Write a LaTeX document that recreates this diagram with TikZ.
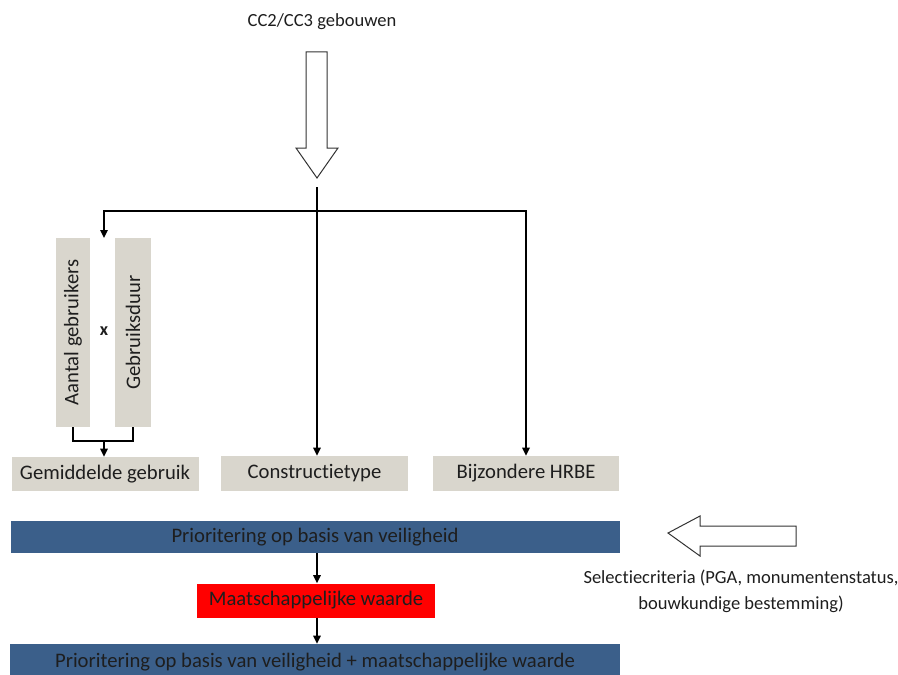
\documentclass[tikz,border=0pt]{standalone}
\usepackage{fontspec}
\setmainfont[Ligatures={NoCommon}]{Carlito}
\usetikzlibrary{arrows.meta}
\definecolor{boxgray}{RGB}{217,214,205}
\definecolor{barblue}{RGB}{59,95,138}
\definecolor{txtdark}{RGB}{30,30,30}
\tikzset{
  graybox/.style={fill=boxgray, draw=none, inner sep=0pt, text=txtdark,
    font=\fontsize{15.5pt}{18pt}\selectfont},
  bluebar/.style={fill=barblue, draw=none, inner sep=0pt, text=txtdark,
    font=\fontsize{15.5pt}{18pt}\selectfont},
  redbox/.style={fill=red, draw=none, inner sep=0pt, text=txtdark,
    font=\fontsize{15.5pt}{18pt}\selectfont},
  link/.style={line width=1.5pt, -{Triangle[length=6pt,width=5.5pt]}},
  plainlink/.style={line width=1.5pt},
  bigarrow/.style={draw=black!80, line width=0.75pt, fill=white},
  caption/.style={text=txtdark, font=\fontsize{13.9pt}{19.5pt}\selectfont, align=center}
}
\begin{document}
\begin{tikzpicture}[x=0.75pt,y=-0.75pt]
\useasboundingbox (0,0) rectangle (898,674);

% input label and hollow arrow
\node[caption] (src) at (322,22) {CC2/CC3 gebouwen};
\draw[bigarrow] (306,52) -- (327,52) -- (327,148) -- (338,148) -- (317,178)
  -- (296,148) -- (306,148) -- cycle;

% usage factors
\node[graybox, rotate=90, minimum width=141.75pt, minimum height=25.5pt] (aant) at (73,332.5) {Aantal gebruikers};
\node[graybox, rotate=90, minimum width=141.75pt, minimum height=27pt] (duur) at (133,332.5) {Gebruiksduur};
\node[font=\fontsize{13.5pt}{15pt}\selectfont\bfseries, text=txtdark] (times) at (104,331) {x};

% the three criteria
\node[graybox, minimum width=140.25pt, minimum height=25.5pt] (gem) at (105,474) {Gemiddelde gebruik};
\node[graybox, minimum width=140.25pt, minimum height=26.25pt] (con) at (314.5,473.5) {Constructietype};
\node[graybox, minimum width=139.5pt, minimum height=26.25pt] (hrbe) at (526,473.5) {Bijzondere HRBE};

% prioritisation
\node[bluebar, minimum width=456.75pt, minimum height=24pt] (prio1) at (315,537) {Prioritering op basis van veiligheid};
\node[redbox, minimum width=178.5pt, minimum height=25.5pt] (maat) at (316,600.5) {Maatschappelijke waarde};
\node[bluebar, minimum width=457.5pt, minimum height=27pt] (prio2) at (315,662) {Prioritering op basis van veiligheid + maatschappelijke waarde};

% selection criteria input
\draw[bigarrow] (796,526) -- (700,526) -- (700,516) -- (668,533) -- (700,556)
  -- (700,546) -- (796,546) -- cycle;
\node[caption] (sel) at (741,591) {Selectiecriteria (PGA, monumentenstatus,\\bouwkundige bestemming)};

% distribution lines
\coordinate (split) at (317,187);
\coordinate (bar) at (317,211);
\draw[plainlink] (split) -- (bar);
\draw[link] (bar) -- (con.north -| bar);
\draw[link] (bar) -| (hrbe.north);
\draw[link] (bar) -| (104,238);

% combine usage factors
\coordinate (join) at (104,441);
\draw[plainlink] (aant.west) |- (join) -| (duur.west);
\draw[link] (join) -- (gem.north -| join);

% vertical flow
\draw[link] (prio1.south -| 317,0) -- (maat.north -| 317,0);
\draw[link] (maat.south -| 317,0) -- (prio2.north -| 317,0);
\end{tikzpicture}
\end{document}
